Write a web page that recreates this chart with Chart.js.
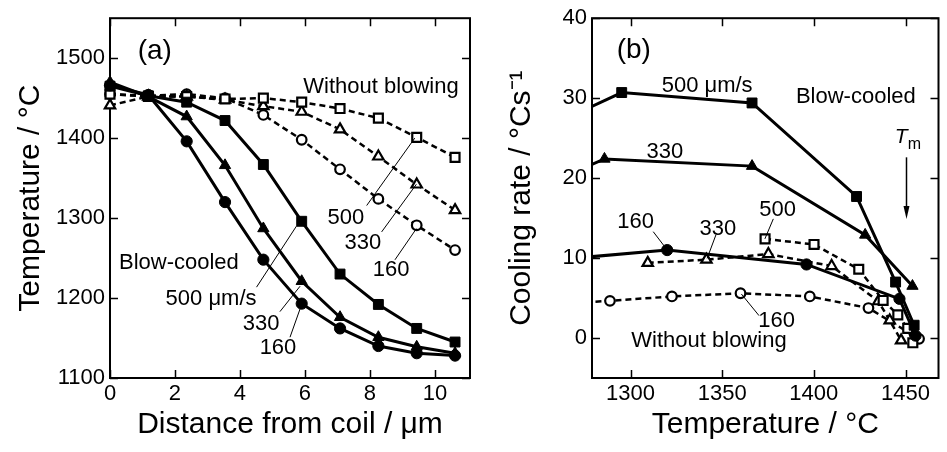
<!DOCTYPE html>
<html><head><meta charset="utf-8">
<script src="https://cdn.jsdelivr.net/npm/chart.js@4.4.1/dist/chart.umd.min.js"></script>
<style>
html,body{margin:0;padding:0;background:#fff;}
#wrap{position:relative;width:947px;height:452px;overflow:hidden;background:#fff;}
.pane{position:absolute;top:0;}
#pa{left:0;width:480px;height:452px;}
#pb{left:480px;width:467px;height:452px;}
</style></head><body>
<div id="wrap">
<div class="pane" id="pa"><canvas id="ca" width="480" height="452"></canvas></div>
<div class="pane" id="pb"><canvas id="cb" width="467" height="452"></canvas></div>
</div>
<script>
// ---------- Panel (a): temperature vs distance from coil ----------
const distance = [0, 1.18, 2.36, 3.54, 4.72, 5.9, 7.08, 8.26, 9.44, 10.62];
const blow500A = [1465, 1453, 1445, 1422, 1367, 1296, 1230, 1192, 1162, 1145];
const blow330A = [1470, 1452, 1427, 1366, 1287, 1221, 1176, 1151, 1139, 1131];
const blow160A = [1466, 1454, 1396, 1320, 1248, 1193, 1162, 1140, 1131, 1128];
const still500A = [1455, 1452, 1452, 1449, 1450, 1445, 1437, 1425, 1401, 1376];
const still330A = [1441, 1452, 1452, 1448, 1440, 1433, 1411, 1377, 1342, 1310];
const still160A = [1455, 1453, 1455, 1450, 1429, 1398, 1361, 1324, 1291, 1260];
const xTicksA = [0, 2, 4, 6, 8, 10];
const yTicksA = [1100, 1200, 1300, 1400, 1500];

// ---------- Panel (b): cooling rate vs temperature ----------
const blow500T = [1270, 1295.2, 1366.3, 1423.3, 1444.6, 1454.7];
const blow500R = [28.0, 30.7, 29.4, 17.7, 7.0, 1.6];
const blow330T = [1270, 1285.8, 1366.3, 1428, 1453.8];
const blow330R = [20.8, 22.4, 21.5, 12.9, 6.5];
const blow160T = [1270, 1320, 1396, 1446.7, 1455.5];
const blow160R = [10.0, 11.0, 9.2, 4.9, 0.3];
const still500T = [1373.4, 1400.1, 1424.5, 1437.8, 1445.8, 1451.2, 1454];
const still500R = [12.4, 11.7, 8.6, 4.7, 2.9, 1.2, -0.6];
const still330T = [1309.4, 1341.4, 1375.2, 1409.7, 1435.2, 1441.4, 1447.6];
const still330R = [9.4, 9.8, 10.5, 9.0, 4.6, 2.2, -0.3];
const still160T = [1270, 1288.8, 1322.6, 1360, 1397.8, 1429.8, 1457.4];
const still160R = [4.4, 4.65, 5.2, 5.6, 5.2, 3.75, -0.1];
const xTicksB = [1300, 1350, 1400, 1450];
const yTicksB = [0, 10, 20, 30, 40];

const FONT = "'Liberation Sans', Arial, Helvetica, sans-serif";
Chart.defaults.font.family = FONT;
Chart.defaults.color = '#000';

function pts(xs, ys) { return xs.map((x, i) => ({x: x, y: ys[i]})); }

function solid(data, style, r) {
  return {data, borderColor:'#000', borderWidth:3, pointStyle:style, pointRadius:r,
    pointBackgroundColor:'#000', pointBorderColor:'#000', pointBorderWidth:1, tension:0, fill:false};
}
function dashed(data, style, r) {
  return {data, borderColor:'#000', borderWidth:2.5, borderDash:[6,4], pointStyle:style, pointRadius:r,
    pointBackgroundColor:'#fff', pointBorderColor:'#000', pointBorderWidth:2.2, tension:0, fill:false};
}

// Annotation text/leader positions (in data units of each panel)
const notesA = [
  {t:'(a)', x:1.38, y:1512, s:28},
  {t:'Without blowing', x:8.34, y:1466.7, s:22},
  {t:'500', x:7.26, y:1302.5, s:22},
  {t:'330', x:7.78, y:1271.6, s:22},
  {t:'160', x:8.65, y:1237, s:22},
  {t:'Blow-cooled', x:2.12, y:1245.7, s:22},
  {t:'500 μm/s', x:3.11, y:1201.2, s:22},
  {t:'330', x:4.65, y:1170.4, s:22},
  {t:'160', x:5.17, y:1139.5, s:22}
];
const leadersA = [
  [7.9, 1315.7, 9.38, 1400], [8.36, 1282.7, 9.43, 1342.3], [8.77, 1247.8, 9.43, 1286.8],
  [4.51, 1213.6, 5.74, 1290], [5.23, 1183, 5.85, 1214.8], [5.54, 1151, 5.9, 1192.2]
];
const notesB = [
  {t:'(b)', x:1301.8, y:36.3, s:28},
  {t:'500 μm/s', x:1341.8, y:31.7, s:22},
  {t:'Blow-cooled', x:1422.9, y:30.4, s:22},
  {t:'330', x:1318.8, y:23.5, s:22},
  {t:'500', x:1380.2, y:16.3, s:22},
  {t:'160', x:1302.8, y:14.8, s:22},
  {t:'330', x:1347.7, y:13.9, s:22},
  {t:'160', x:1379.7, y:2.4, s:22},
  {t:'Without blowing', x:1342.8, y:-0.16, s:22}
];
const leadersB = [
  [1377.9, 14.9, 1373.3, 12.4], [1312.4, 13.3, 1319.4, 11.2],
  [1346.6, 12.9, 1341.8, 9.96], [1370.1, 2.8, 1360.5, 5.5]
];
const tmMark = {tx:1444.1, ty:24.4, mx:1451.2, my:23.6, ax:1450, ay1:22.6, ay2:14.9};

const framePlugin = {
  id:'frame',
  beforeDatasetsDraw(chart) {
    const {ctx, chartArea:{left,right,top,bottom}, scales:{x,y}} = chart;
    ctx.save();
    ctx.strokeStyle = '#000';
    ctx.lineWidth = 2;
    ctx.strokeRect(left, top, right-left, bottom-top);
    ctx.lineWidth = 1.5;
    const L = 8;
    ctx.beginPath();
    x.ticks.forEach(t => {
      const px = Math.round(x.getPixelForValue(t.value)) + 0.5;
      ctx.moveTo(px, bottom); ctx.lineTo(px, bottom-L);
      ctx.moveTo(px, top); ctx.lineTo(px, top+L);
    });
    y.ticks.forEach(t => {
      const py = Math.round(y.getPixelForValue(t.value)) + 0.5;
      ctx.moveTo(left, py); ctx.lineTo(left+L, py);
      ctx.moveTo(right, py); ctx.lineTo(right-L, py);
    });
    ctx.stroke();
    ctx.restore();
  },
  afterDatasetsDraw(chart, args, opts) {
    const {ctx, scales:{x,y}} = chart;
    ctx.save();
    ctx.fillStyle = '#000';
    ctx.strokeStyle = '#000';
    ctx.textAlign = 'center';
    ctx.textBaseline = 'alphabetic';
    (opts.notes || []).forEach(n => {
      ctx.font = n.s + 'px ' + FONT;
      ctx.fillText(n.t, x.getPixelForValue(n.x), y.getPixelForValue(n.y) + 0.358*n.s);
    });
    ctx.lineWidth = 1;
    ctx.beginPath();
    (opts.leaders || []).forEach(l => {
      ctx.moveTo(x.getPixelForValue(l[0]), y.getPixelForValue(l[1]));
      ctx.lineTo(x.getPixelForValue(l[2]), y.getPixelForValue(l[3]));
    });
    ctx.stroke();
    const tm = opts.tm;
    if (tm) {
      ctx.textAlign = 'left';
      ctx.font = 'italic 21px ' + FONT;
      ctx.fillText('T', x.getPixelForValue(tm.tx), y.getPixelForValue(tm.ty));
      ctx.font = '16px ' + FONT;
      ctx.fillText('m', x.getPixelForValue(tm.mx), y.getPixelForValue(tm.my));
      const ax = Math.round(x.getPixelForValue(tm.ax)) + 0.5;
      const y1 = y.getPixelForValue(tm.ay1), y2 = y.getPixelForValue(tm.ay2);
      ctx.lineWidth = 1.5;
      ctx.beginPath(); ctx.moveTo(ax, y1); ctx.lineTo(ax, y2 - 10); ctx.stroke();
      ctx.beginPath(); ctx.moveTo(ax - 3, y2 - 13); ctx.lineTo(ax + 3, y2 - 13); ctx.lineTo(ax, y2); ctx.closePath(); ctx.fill();
    }
    ctx.restore();
  }
};

function axis(min, max, step, pad, title, isX, size, tpad) {
  return {
    type:'linear', min, max,
    ticks:{stepSize:step, includeBounds:false, padding:pad, color:'#000', font:{size:22}, maxRotation:0, autoSkip:false,
      callback: v => String(v)},
    grid:{display:false, drawTicks:false},
    border:{display:false},
    title:{display:true, text:title, color:'#000', font:{size:30, lineHeight:1}, padding:tpad},
    afterFit: s => { if (isX) s.height = size; else s.width = size; }
  };
}

new Chart(document.getElementById('ca'), {
  type:'line',
  data:{datasets:[
    solid(pts(distance, blow500A), 'rect', 7),
    solid(pts(distance, blow330A), 'triangle', 6.5),
    solid(pts(distance, blow160A), 'circle', 5.6),
    dashed(pts(distance, still500A), 'rect', 6.3),
    dashed(pts(distance, still330A), 'triangle', 6),
    dashed(pts(distance, still160A), 'circle', 4.8)
  ].map(d => Object.assign(d, {clip:false}))},
  options:{
    responsive:false, animation:false, devicePixelRatio:1,
    layout:{padding:{top:14, right:10, left:0, bottom:0}},
    plugins:{legend:{display:false}, tooltip:{enabled:false},
      frame:{notes:notesA, leaders:leadersA}},
    scales:{
      x: axis(0, 11.08, 2, 3, 'Distance from coil / μm', true, 74, {top:0, bottom:12}),
      y: axis(1100, 1550, 100, 5, 'Temperature / °C', false, 110, {top:16, bottom:0})
    }
  },
  plugins:[framePlugin]
});

new Chart(document.getElementById('cb'), {
  type:'line',
  data:{datasets:[
    solid(pts(blow500T, blow500R), 'rect', 7),
    solid(pts(blow330T, blow330R), 'triangle', 6.5),
    solid(pts(blow160T, blow160R), 'circle', 5.6),
    dashed(pts(still500T, still500R), 'rect', 6.3),
    dashed(pts(still330T, still330R), 'triangle', 6),
    dashed(pts(still160T, still160R), 'circle', 4.8)
  ].map(d => Object.assign(d, {clip:0}))},
  options:{
    responsive:false, animation:false, devicePixelRatio:1,
    layout:{padding:{top:14, right:1, left:0, bottom:0}},
    plugins:{legend:{display:false}, tooltip:{enabled:false},
      frame:{notes:notesB, leaders:leadersB, tm:tmMark}},
    scales:{
      x: axis(1279, 1468, 50, 3, 'Temperature / °C', true, 74, {top:0, bottom:12}),
      y: axis(-5, 40, 10, 5, 'Cooling rate / °Cs⁻¹', false, 112, {top:27, bottom:0})
    }
  },
  plugins:[framePlugin]
});
</script>
</body></html>
